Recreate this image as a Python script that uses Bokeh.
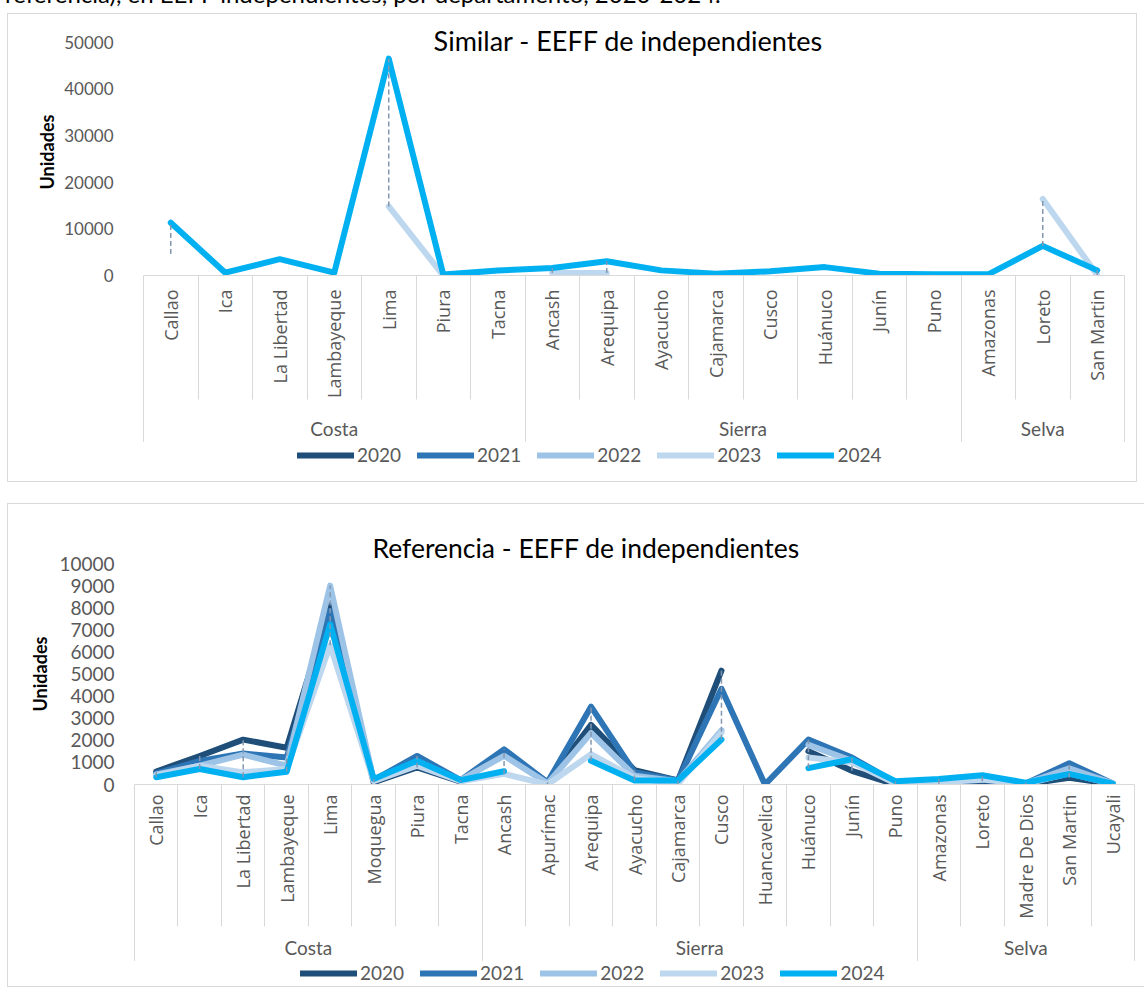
import warnings
import numpy as np
from bokeh.plotting import figure
from bokeh.models import (Range1d, LinearAxis, FixedTicker, Label, Legend, LegendItem, Div, Spacer)
from bokeh.layouts import column, row
from bokeh.embed import file_html
from bokeh.resources import INLINE

warnings.filterwarnings("ignore")
nan = float("nan")

YEARS = ["2020", "2021", "2022", "2023", "2024"]
COLORS = ["#1F4E79", "#2E75B6", "#9DC3E6", "#BDD7EE", "#00B0F0"]

CAPTION = "referencia), en EEFF independientes, por departamento, 2020-2024."

# ---------------- Chart 1: Similar ----------------
sim_title = "Similar - EEFF de independientes"
sim_categories = ["Callao", "Ica", "La Libertad", "Lambayeque", "Lima", "Piura", "Tacna",
                  "Ancash", "Arequipa", "Ayacucho", "Cajamarca", "Cusco", "Huánuco", "Junín", "Puno",
                  "Amazonas", "Loreto", "San Martin"]
sim_groups = ["Costa", "Costa", "Costa", "Costa", "Costa", "Costa", "Costa",
              "Sierra", "Sierra", "Sierra", "Sierra", "Sierra", "Sierra", "Sierra", "Sierra",
              "Selva", "Selva", "Selva"]
sim_2020 = [nan, nan, nan, nan, nan, nan, nan, nan, nan, nan, nan, nan, nan, nan, nan, nan, nan, nan]
sim_2021 = [nan, nan, nan, nan, nan, nan, nan, nan, nan, nan, nan, nan, nan, nan, nan, nan, nan, nan]
sim_2022 = [nan, nan, nan, nan, nan, nan, nan, nan, nan, nan, nan, nan, nan, nan, nan, nan, nan, nan]
sim_2023 = [4600, nan, nan, nan, 14800, 0, nan, 560, 560, nan, nan, nan, nan, nan, nan, nan, 16400, 100]
sim_2024 = [11300, 600, 3500, 600, 46500, 200, 1050, 1600, 3050, 1100, 400, 900, 1800, 400, 250, 250, 6350, 1100]
sim_yticks = [0, 10000, 20000, 30000, 40000, 50000]

# ---------------- Chart 2: Referencia ----------------
ref_title = "Referencia - EEFF de independientes"
ref_categories = ["Callao", "Ica", "La Libertad", "Lambayeque", "Lima", "Moquegua", "Piura", "Tacna",
                  "Ancash", "Apurímac", "Arequipa", "Ayacucho", "Cajamarca", "Cusco", "Huancavelica",
                  "Huánuco", "Junín", "Puno",
                  "Amazonas", "Loreto", "Madre De Dios", "San Martin", "Ucayali"]
ref_groups = ["Costa", "Costa", "Costa", "Costa", "Costa", "Costa", "Costa", "Costa",
              "Sierra", "Sierra", "Sierra", "Sierra", "Sierra", "Sierra", "Sierra", "Sierra", "Sierra", "Sierra",
              "Selva", "Selva", "Selva", "Selva", "Selva"]
ref_2020 = [590, 1290, 2030, 1660, 8100, 100, 770, 130, 1440, 100, 2700, 650, 180, 5150, nan, 1510, 620, 0,
            30, 150, 20, 300, 20]
ref_2021 = [500, 1070, 1400, 1220, 7850, 200, 1290, 200, 1590, 100, 3520, 550, 180, 4330, 0, 2030, 1220, 100,
            100, 200, 50, 960, 50]
ref_2022 = [450, 850, 1350, 850, 9000, 200, 1000, 200, 1300, 50, 2330, 400, 150, 2450, nan, 1800, 1070, 100,
            150, 250, 50, 730, 50]
ref_2023 = [400, 850, 550, 700, 6300, 150, 850, 150, 480, 0, 1370, 300, 30, 2350, nan, 1220, 1000, 50,
            100, 220, 30, 500, 20]
ref_2024 = [330, 700, 330, 580, 7250, 250, 1070, 200, 600, nan, 1070, 180, 180, 2030, nan, 740, 1140, 150,
            250, 420, 80, 480, 40]
ref_yticks = [0, 1000, 2000, 3000, 4000, 5000, 6000, 7000, 8000, 9000, 10000]

GRID = "#D9D9D9"
TXT = "#595959"
LINE_W = 6


def group_runs(groups):
    names, starts, ends = [], [], []
    for i, g in enumerate(groups):
        if names and names[-1] == g and ends[-1] == i:
            ends[-1] = i + 1
        else:
            names.append(g); starts.append(i); ends.append(i + 1)
    return names, starts, ends


def make_chart(title, cats, groups, series, yticks, g):
    n = len(cats)
    xs = np.arange(n) + 0.5
    frame_h = g["h"] - g["mt"] - g["mb"]
    y_end = yticks[-1] * frame_h / (frame_h - g["pad"])
    p = figure(width=g["w"], height=g["h"], x_range=Range1d(0, n),
               y_range=Range1d(yticks[0], y_end), x_axis_type=None,
               output_backend="svg", toolbar_location=None,
               min_border_left=g["ml"], min_border_right=g["mr"],
               min_border_top=g["mt"], min_border_bottom=g["mb"],
               background_fill_color="white", border_fill_color="white")
    p.outline_line_color = None
    p.ygrid.grid_line_color = None

    ya = p.yaxis[0]
    ya.ticker = FixedTicker(ticks=yticks)
    ya.axis_line_color = None
    ya.major_tick_line_color = None
    ya.minor_tick_line_color = None
    ya.major_tick_out = 0
    ya.major_tick_in = 0
    ya.minor_tick_out = 0
    ya.major_label_standoff = g["ystand"]
    ya.major_label_text_font = "Lato"
    ya.major_label_text_font_size = g["yfs"]
    ya.major_label_text_color = TXT
    ya.axis_label = "Unidades"
    ya.axis_label_text_font = "Lato"
    ya.axis_label_text_font_style = "bold"
    ya.axis_label_text_font_size = "18px"
    ya.axis_label_text_color = "#000000"
    ya.axis_label_standoff = g["ylabstand"]

    ax1 = LinearAxis(
        ticker=FixedTicker(ticks=[float(x) for x in xs], minor_ticks=[float(b) for b in range(n + 1)]),
        major_label_overrides={float(x): c for x, c in zip(xs, cats)},
        major_label_orientation=np.pi / 2,
        major_tick_out=0, major_tick_in=0, major_tick_line_color=None,
        minor_tick_out=g["cat_line"], minor_tick_in=0,
        minor_tick_line_color=GRID, minor_tick_line_width=1,
        axis_line_color=GRID, axis_line_width=1,
        major_label_standoff=g["catstand"] - g["cat_line"],
        major_label_text_font="Open Sans", major_label_text_font_size="18px",
        major_label_text_color=TXT)
    p.add_layout(ax1, "below")

    names, starts, ends = group_runs(groups)
    centers = [(s + e) / 2 for s, e in zip(starts, ends)]
    bounds = sorted(set([float(s) for s in starts] + [float(e) for e in ends]))
    ax2 = LinearAxis(
        ticker=FixedTicker(ticks=centers, minor_ticks=bounds),
        major_label_overrides={float(c): nm for c, nm in zip(centers, names)},
        major_label_orientation="horizontal",
        major_tick_out=0, major_tick_in=0, major_tick_line_color=None,
        minor_tick_out=g["grp_line"], minor_tick_in=40,
        minor_tick_line_color=GRID, minor_tick_line_width=1,
        axis_line_color=None,
        major_label_standoff=g["grpstand"] - g["grp_line"],
        major_label_text_font="Lato", major_label_text_font_size="19px",
        major_label_text_color=TXT)
    p.add_layout(ax2, "below")

    arrs = []
    for yr, col, vals in zip(YEARS, COLORS, series):
        v = np.array(vals, dtype=float)
        arrs.append(v)
        p.line(xs, v, line_color=col, line_width=LINE_W, line_cap="round", line_join="round")

    stack = np.vstack(arrs)
    hi = np.nanmax(stack, axis=0)
    lo = np.nanmin(stack, axis=0)
    p.segment(x0=xs, y0=lo, x1=xs, y1=hi, line_color="#8497B0", line_width=1.5, line_dash="5 3")

    if g["title_mode"] == "label":
        p.add_layout(Label(x=g["tx"], y=g["ty"], x_units="screen", y_units="screen", text=title,
                           text_align="center", text_baseline="middle", text_font="Lato",
                           text_font_size=g["tfs"], text_color="#000000"))
    else:
        p.title.text = title
        p.title.align = "left"
        p.title.offset = g["tx"]
        p.title.standoff = 0
        p.title.text_font = "Lato"
        p.title.text_font_size = g["tfs"]
        p.title.text_font_style = "normal"
        p.title.text_color = "#000000"
    return p


def make_legend(width, height, loc):
    lf = figure(width=width, height=height, x_range=Range1d(0, 1), y_range=Range1d(0, 1),
                x_axis_type=None, y_axis_type=None, output_backend="svg", toolbar_location=None,
                min_border=0, background_fill_color="white", border_fill_color="white")
    lf.outline_line_color = None
    items = []
    for yr, col in zip(YEARS, COLORS):
        # legend-only renderer: no visible data of its own
        r = lf.line(x=[nan, nan], y=[nan, nan], line_color=col, line_width=LINE_W,
                    line_cap="round", line_join="round")
        items.append(LegendItem(label=yr, renderers=[r]))
    leg = Legend(items=items, orientation="horizontal", location=loc,
                 padding=0, margin=0, spacing=16, glyph_width=57, glyph_height=20,
                 label_height=20, label_standoff=3, label_text_font="Lato",
                 label_text_font_size="19px", label_text_color=TXT,
                 border_line_color=None, background_fill_alpha=0)
    lf.add_layout(leg, "center")
    return lf


g1 = dict(w=1128, h=428, ml=135, mr=12, mt=14, mb=164, pad=14, ystand=30, yfs="17px", ylabstand=3,
          cat_line=124, catstand=14, grp_line=44, grpstand=16,
          title_mode="label", tx=485, ty=235, tfs="27px")
g2 = dict(w=1136, h=457, ml=126, mr=10, mt=59, mb=174, pad=0, ystand=20, yfs="19px", ylabstand=5,
          cat_line=142, catstand=10, grp_line=43, grpstand=14,
          title_mode="title", tx=238, tfs="26.5px")

p1 = make_chart(sim_title, sim_categories, sim_groups,
                [sim_2020, sim_2021, sim_2022, sim_2023, sim_2024], sim_yticks, g1)
l1 = make_legend(1128, 39, (154, 15))
p2 = make_chart(ref_title, ref_categories, ref_groups,
                [ref_2020, ref_2021, ref_2022, ref_2023, ref_2024], ref_yticks, g2)
l2 = make_legend(1136, 25, (166, 2))

BOX = {"outline": "1px solid #D9D9D9", "outline-offset": "0px"}
chart1 = column(p1, l1, spacing=0, styles=BOX)
chart2 = column(p2, l2, spacing=0, styles=BOX)

cap = Div(text='<div style="position:relative; left:-8px; top:-23px; font-family:Lato; font-size:24px; '
               'line-height:24px; white-space:nowrap; color:#000;">' + CAPTION + '</div>',
          width=1128, height=4, styles={"overflow": "visible"})

body = column(cap, chart1, Spacer(height=23), chart2, spacing=0)
layout = row(Spacer(width=8), body, spacing=0)
open("out.html", "w").write(file_html(layout, INLINE))
